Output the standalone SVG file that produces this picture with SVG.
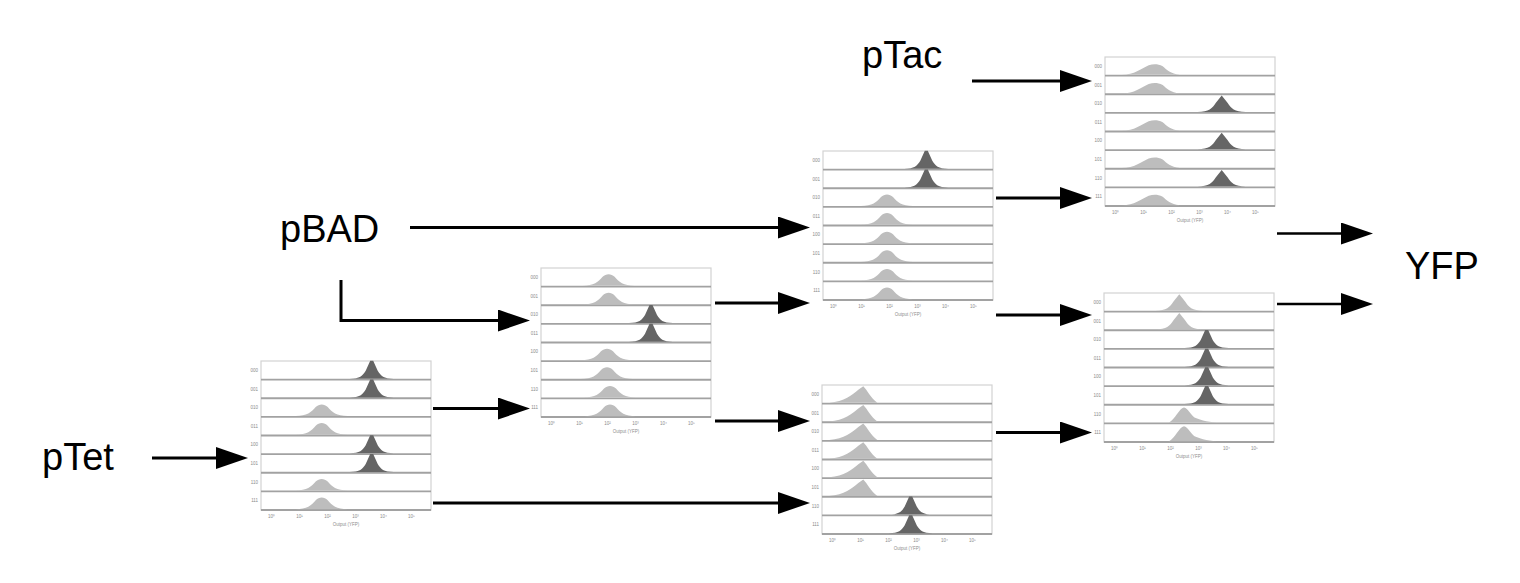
<svg xmlns="http://www.w3.org/2000/svg" xmlns:xlink="http://www.w3.org/1999/xlink" width="1520" height="583" viewBox="0 0 1520 583">
<style>
.fr{fill:#fff;stroke:#d2d2d2;stroke-width:1.2}
.rl{stroke:#a2a2a2;stroke-width:1.8}
.lt{fill:#bdbdbd}
.dk{fill:#656565}
.tiny{font-family:"Liberation Sans",Arial,sans-serif;font-size:4.5px;fill:#8c8c8c}
.lbl{font-family:"Liberation Sans",Arial,sans-serif;font-size:38px;fill:#000}
.conn line,.conn path{stroke:#000;stroke-width:3;fill:none;marker-end:url(#ah)}
.conn .thin{stroke-width:2.5}
</style>
<defs>
<marker id="ah" markerUnits="userSpaceOnUse" markerWidth="32" markerHeight="22" viewBox="0 0 32 22" refX="12" refY="11" orient="auto">
<path d="M0,0 L32,11 L0,22 Z" fill="#000"/>
</marker>
<path id="pkD" d="M-22,0 C-12,0 -9,-3 -6,-8 L-1.5,-18 L1.5,-18 L6,-8 C9,-3 12,0 22,0 Z"/>
<path id="pkL" d="M-26,0 C-15,0 -10,-4 -6,-9 C-2.5,-12.5 2.5,-12.5 6,-9 C10,-4 15,0 26,0 Z"/>
<path id="pkW" d="M-34,0 C-21,0 -15,-6 -7,-9.5 C-2,-11 2,-11 7,-8.5 C11,-5 15,-1 24,0 Z"/>
<path id="pkS" d="M-34,0 C-19,-1 -11,-8 -5,-13 L0,-16.5 C4,-12.5 7.5,-5 14,0 Z"/>
<path id="pkT" d="M-15,0 C-9,-3 -5,-14 0,-15 C4,-14 6.5,-8 10.5,-5 C17,-2 27,0 36,0 Z"/>
<path id="pkF" d="M-24,0 C-13,0 -9,-4 -6,-9 L0,-16.5 L6,-9 C9,-4 13,0 24,0 Z"/>
<g id="base">
<rect class="fr" x="0" y="0" width="170" height="149"/>
<g class="rl">
<line x1="0" y1="18.6" x2="170" y2="18.6"/><line x1="0" y1="37.25" x2="170" y2="37.25"/>
<line x1="0" y1="55.9" x2="170" y2="55.9"/><line x1="0" y1="74.5" x2="170" y2="74.5"/>
<line x1="0" y1="93.1" x2="170" y2="93.1"/><line x1="0" y1="111.75" x2="170" y2="111.75"/>
<line x1="0" y1="130.4" x2="170" y2="130.4"/><line x1="0" y1="149" x2="170" y2="149"/>
</g>
<g class="tiny" text-anchor="end">
<text x="-3" y="11">000</text><text x="-3" y="29.6">001</text><text x="-3" y="48.2">010</text><text x="-3" y="66.8">011</text>
<text x="-3" y="85.4">100</text><text x="-3" y="104">101</text><text x="-3" y="122.7">110</text><text x="-3" y="141.3">111</text>
</g>
<g class="tiny" text-anchor="middle">
<text x="10.5" y="157">10⁰</text><text x="38.5" y="157">10¹</text><text x="66.5" y="157">10²</text>
<text x="94.5" y="157">10³</text><text x="122.5" y="157">10⁴</text><text x="150.5" y="157">10⁵</text>
<text x="85" y="165">Output (YFP)</text>
</g>
</g>
</defs>
<rect width="1520" height="583" fill="#fff"/>

<g id="panelA" transform="translate(261,361)">
<use href="#base"/>
<use href="#pkD" class="dk" x="110.7" y="17.8"/><use href="#pkD" class="dk" x="110.7" y="36.45"/>
<use href="#pkL" class="lt" x="60.7" y="55.1"/><use href="#pkL" class="lt" x="60.7" y="73.7"/>
<use href="#pkD" class="dk" x="110.7" y="92.3"/><use href="#pkD" class="dk" x="110.7" y="110.95"/>
<use href="#pkL" class="lt" x="60.7" y="129.6"/><use href="#pkL" class="lt" x="60.7" y="148.2"/>
</g>

<g id="panelB" transform="translate(541,268)">
<use href="#base"/>
<use href="#pkL" class="lt" x="67.6" y="17.8"/><use href="#pkL" class="lt" x="67.6" y="36.45"/>
<use href="#pkD" class="dk" x="110" y="55.1"/><use href="#pkD" class="dk" x="110" y="73.7"/>
<use href="#pkL" class="lt" x="66" y="92.3"/><use href="#pkL" class="lt" x="66" y="110.95"/>
<use href="#pkL" class="lt" x="69" y="129.6"/><use href="#pkL" class="lt" x="69" y="148.2"/>
</g>

<g id="panelC" transform="translate(823,151)">
<use href="#base"/>
<use href="#pkD" class="dk" x="103.3" y="17.8"/><use href="#pkD" class="dk" x="103.3" y="36.45"/>
<use href="#pkL" class="lt" x="64" y="55.1"/><use href="#pkL" class="lt" x="64" y="73.7"/>
<use href="#pkL" class="lt" x="64" y="92.3"/><use href="#pkL" class="lt" x="64" y="110.95"/>
<use href="#pkL" class="lt" x="64" y="129.6"/><use href="#pkL" class="lt" x="64" y="148.2"/>
</g>

<g id="panelD" transform="translate(822,385)">
<use href="#base"/>
<use href="#pkS" class="lt" x="41.3" y="17.8"/><use href="#pkS" class="lt" x="41.3" y="36.45"/>
<use href="#pkS" class="lt" x="41.3" y="55.1"/><use href="#pkS" class="lt" x="41.3" y="73.7"/>
<use href="#pkS" class="lt" x="41.3" y="92.3"/><use href="#pkS" class="lt" x="41.3" y="110.95"/>
<use href="#pkD" class="dk" x="88.7" y="129.6"/><use href="#pkD" class="dk" x="88.7" y="148.2"/>
</g>

<g id="panelE" transform="translate(1105,57)">
<use href="#base"/>
<use href="#pkW" class="lt" x="50.7" y="17.8"/><use href="#pkW" class="lt" x="50.7" y="36.45"/>
<use href="#pkF" class="dk" x="116.7" y="55.1"/><use href="#pkW" class="lt" x="50.7" y="73.7"/>
<use href="#pkF" class="dk" x="116.7" y="92.3"/><use href="#pkW" class="lt" x="50.7" y="110.95"/>
<use href="#pkF" class="dk" x="116.7" y="129.6"/><use href="#pkW" class="lt" x="50.7" y="148.2"/>
</g>

<g id="panelF" transform="translate(1104,293)">
<use href="#base"/>
<use href="#pkF" class="lt" x="75.3" y="17.8"/><use href="#pkF" class="lt" x="75.3" y="36.45"/>
<use href="#pkD" class="dk" x="102.7" y="55.1"/><use href="#pkD" class="dk" x="102.7" y="73.7"/>
<use href="#pkD" class="dk" x="102.7" y="92.3"/><use href="#pkD" class="dk" x="102.7" y="110.95"/>
<use href="#pkT" class="lt" x="80" y="129.6"/><use href="#pkT" class="lt" x="80" y="148.2"/>
</g>

<g id="label-pTac"><text class="lbl" x="862" y="68">pTac</text></g>
<g id="label-pBAD"><text class="lbl" x="280" y="242">pBAD</text></g>
<g id="label-pTet"><text class="lbl" x="42" y="470">pTet</text></g>
<g id="label-YFP"><text class="lbl" x="1405" y="279">YFP</text></g>

<g id="connectors" class="conn">
<line x1="972" y1="81" x2="1072" y2="81"/>
<line x1="410" y1="227.5" x2="790" y2="227.5"/>
<path d="M341,280 V320.5 H510"/>
<line x1="152" y1="458" x2="228" y2="458"/>
<line x1="433" y1="408.5" x2="510" y2="408.5"/>
<line x1="433" y1="503" x2="790" y2="503"/>
<line x1="715" y1="303" x2="790" y2="303"/>
<line x1="715" y1="421" x2="790" y2="421"/>
<line x1="996" y1="198" x2="1072" y2="198"/>
<line x1="996" y1="315" x2="1072" y2="315"/>
<line x1="996" y1="432.5" x2="1072" y2="432.5"/>
<line class="thin" x1="1277" y1="233.5" x2="1353" y2="233.5"/>
<line class="thin" x1="1277" y1="304" x2="1353" y2="304"/>
</g>
</svg>
